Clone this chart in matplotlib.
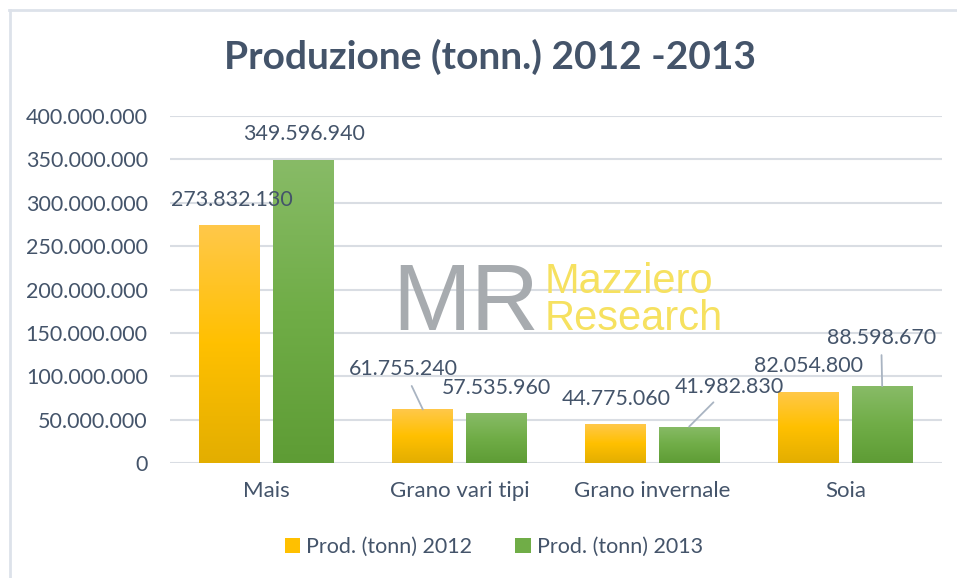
import numpy as np
import matplotlib
matplotlib.use("Agg")
import matplotlib.pyplot as plt
from matplotlib.colors import LinearSegmentedColormap
from matplotlib.lines import Line2D
from matplotlib.patches import Patch

# ---- data ----
categories = ["Mais", "Grano vari tipi", "Grano invernale", "Soia"]
prod_2012 = [273832130, 61755240, 44775060, 82054800]
prod_2013 = [349596940, 57535960, 41982830, 88598670]
series_names = ["Prod. (tonn) 2012", "Prod. (tonn) 2013"]
title = "Produzione (tonn.) 2012 -2013"
yticks = [0, 50000000, 100000000, 150000000, 200000000, 250000000,
          300000000, 350000000, 400000000]

# ---- style ----
TXT = "#44546A"
GRID = "#D9DDE3"
FONT = ["Lato", "DejaVu Sans"]
plt.rcParams["font.family"] = FONT

def fmt(v):
    return f"{int(v):,}".replace(",", ".")

cmap12 = LinearSegmentedColormap.from_list("c12", ["#E3AE00", "#FFC000", "#FFC84A"])
cmap13 = LinearSegmentedColormap.from_list("c13", ["#5E9C35", "#70AD47", "#88BB67"])

fig = plt.figure(figsize=(9.57, 5.78), dpi=100)
ax = fig.add_axes([170/957, 1-463/578, 772/957, 347/578])
ax.set_xlim(-0.5, 3.5)
ax.set_ylim(0, 400000000)

x = np.arange(len(categories))
bw = 0.316
off = 0.19
grad = np.linspace(0, 1, 256).reshape(-1, 1)

# label offsets (pixels) relative to bar top, and whether leader line drawn
lab12 = [(2, 25, False), (-19, 40, True), (0, 25, False), (0, 26, False)]
lab13 = [(1, 26, False), (0, 25, False), (40, 40, True), (-1, 48, True)]

for vals, sign, cm, labs in [(prod_2012, -1, cmap12, lab12), (prod_2013, 1, cmap13, lab13)]:
    bars = ax.bar(x + sign*off, vals, width=bw, color="none", edgecolor="none", zorder=3)
    for b, v, (dx, dy, lead) in zip(bars, vals, labs):
        x0 = b.get_x()
        im = ax.imshow(grad, cmap=cm, origin="lower", aspect="auto",
                       extent=[x0, x0 + b.get_width(), 0, v], zorder=3)
        im.set_clip_path(b)
        cx = x0 + b.get_width()/2
        kw = {}
        if lead:
            kw["arrowprops"] = dict(arrowstyle="-", color="#A9B4C2", lw=1.3,
                                    shrinkA=3, shrinkB=0)
        ax.annotate(fmt(v), xy=(cx, v), xytext=(dx, dy), textcoords="offset pixels",
                    ha="center", va="center", fontsize=15.4, color=TXT, zorder=5, **kw)

ax.set_xlim(-0.5, 3.5)
ax.set_ylim(0, 400000000)
ax.set_yticks(yticks)
ax.set_yticklabels([fmt(t) for t in yticks])
ax.set_xticks(x)
ax.set_xticklabels(categories)
ax.tick_params(axis="both", length=0, labelsize=15.5, labelcolor=TXT)
ax.tick_params(axis="x", labelsize=16, pad=13)
ax.tick_params(axis="y", pad=16)
ax.grid(axis="y", color=GRID, lw=1.5, zorder=0)
ax.set_axisbelow(True)
for s in ax.spines.values():
    s.set_visible(False)

# title
fig.text(490/957, 1-57/578, title, ha="center", va="center", fontsize=28,
         fontweight="bold", color=TXT)

# watermark logo
fig.text(392/957, 1-330/578, "MR", ha="left", va="baseline", fontsize=68,
         family="Liberation Sans", color="#A7ABAF", zorder=1)
fig.text(545/957, 1-293/578, "Mazziero", ha="left", va="baseline", fontsize=30,
         family="Liberation Sans", color="#F6E160", zorder=1)
fig.text(545/957, 1-330/578, "Research", ha="left", va="baseline", fontsize=30,
         family="Liberation Sans", color="#F6E160", zorder=1)

# legend
handles = [Patch(facecolor="#FFC000", edgecolor="none"),
           Patch(facecolor="#70AD47", edgecolor="none")]
fig.legend(handles, series_names, loc="center", bbox_to_anchor=(494/957, 1-547/578),
           ncol=2, frameon=False, fontsize=15.5, labelcolor=TXT,
           handlelength=0.7, handleheight=0.7, handletextpad=0.3, columnspacing=2.0)

# chart border (top and left)
fig.add_artist(Line2D([9/957, 1], [1-10/578, 1-10/578], transform=fig.transFigure,
                      color="#DDE2EA", lw=2))
fig.add_artist(Line2D([10/957, 10/957], [0, 1-10/578], transform=fig.transFigure,
                      color="#DDE2EA", lw=2))

fig.savefig("out.png", dpi=100)
